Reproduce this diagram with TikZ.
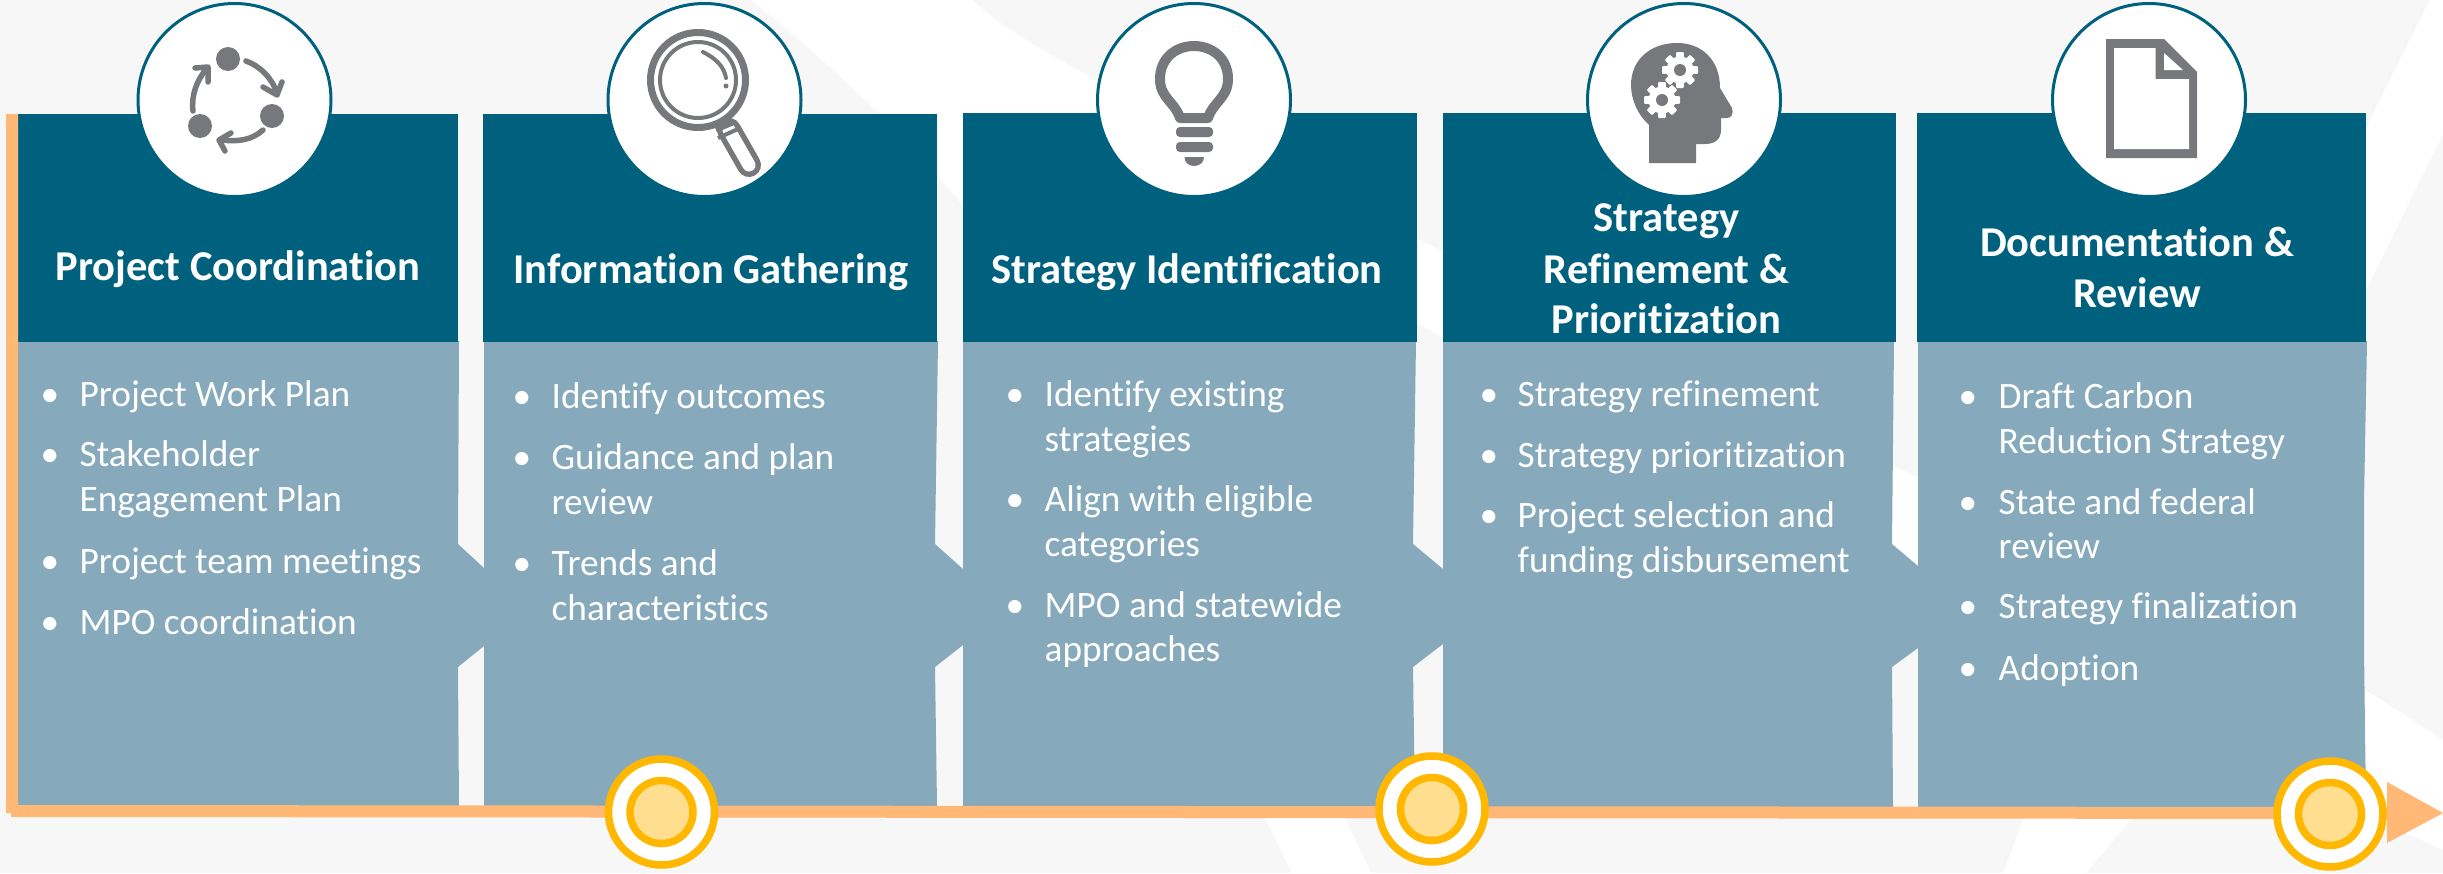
\documentclass[tikz,border=0pt]{standalone}
\usepackage{fontspec}
\setmainfont{Carlito}[Ligatures=NoCommon]
\definecolor{bgc}{HTML}{F7F7F7}
\definecolor{teal}{HTML}{00617F}
\definecolor{lteal}{HTML}{86AABB}
\definecolor{axisc}{HTML}{FFB875}
\definecolor{gold}{HTML}{FFB700}
\definecolor{lgold}{HTML}{FFDF8F}
\definecolor{icon}{HTML}{77787B}
\tikzset{
  head/.style={fill=teal},
  body/.style={fill=lteal},
  htext/.style={anchor=base,yshift=-1.5pt,text=white,font=\bfseries\fontsize{42.5}{44}\selectfont,inner sep=0pt},
  itext/.style={anchor=base west,yshift=-1pt,text=white,font=\fontsize{37.3}{40}\selectfont,inner sep=0pt},
  btext/.style={anchor=base,yshift=-1pt,text=white,font=\fontsize{37.3}{40}\selectfont,inner sep=0pt},
  disc/.style={circle,draw=teal,line width=3pt,fill=white,minimum size=193pt,inner sep=0pt},
  mile/.style={circle,draw=gold,line width=7.5pt,fill=white,minimum size=106pt,inner sep=0pt},
  milein/.style={circle,draw=gold,line width=7.5pt,fill=lgold,minimum size=63pt,inner sep=0pt},
  icl/.style={draw=icon,line cap=round,line join=round,line width=5.5pt},
}
\newcommand{\bitem}[5]{\node[btext] (#1b) at (#2,#4) {•};\node[itext] (#1) at (#3,#4) {#5};}
\newcommand{\cont}[4]{\node[itext] (#1) at (#2,#3) {#4};}
\begin{document}
\begin{tikzpicture}[x=1pt,y=-1pt]
\useasboundingbox (0,0) rectangle (2443,873);
% background
\fill[bgc] (0,0) rectangle (2443,873);
\fill[white] (751,0) .. controls (820,55) and (890,120) .. (950,190)
  .. controls (1085,350) and (1200,560) .. (1265,818) -- (1292,873) -- (1371,873) -- (1345,818)
  -- (1250,240) -- (1430,330) -- (1905,600) -- (2443,850) -- (2443,740)
  .. controls (2415,722) and (2390,705) .. (2365,690)
  -- (1905,471) -- (1417,239) .. controls (1300,185) and (1190,140) .. (1100,82)
  .. controls (1050,55) and (1005,30) .. (972,0) -- cycle;
\fill[white] (2430,0) -- (2366,128) .. controls (2230,400) and (2090,640) .. (2024,818) -- (2003,873)
  -- (2086,873) -- (2132,818) .. controls (2220,640) and (2290,470) .. (2366,290) -- (2443,134) -- (2443,0) -- cycle;
% bodies
\fill[body] (18,341) -- (459,341) -- (458,544) -- (484,568) -- (484,646) -- (458,667) -- (459,806) -- (18,806) -- cycle;
\fill[body] (484,341) -- (938,341) -- (935,544) -- (963,569) -- (963,645) -- (935,667) -- (937,806) -- (484,806) -- cycle;
\fill[body] (963,341) -- (1416,341) -- (1413,544) -- (1443,569) -- (1443,644) -- (1413,667) -- (1415,806) -- (963,806) -- cycle;
\fill[body] (1443,341) -- (1894,341) -- (1892,544) -- (1918,566) -- (1918,648) -- (1892,667) -- (1893,807) -- (1443,807) -- cycle;
\fill[body] (1918,341) -- (2367,341) -- (2364,500) -- (2364,650) -- (2366,807) -- (1918,807) -- cycle;
% headers
\fill[head] (18,114) rectangle (458,342);
\fill[head] (483,114) rectangle (937,342);
\fill[head] (963,113) rectangle (1417,342);
\fill[head] (1443,113) rectangle (1896,342);
\fill[head] (1917,113) rectangle (2366,342);
% time axis
\fill[axisc] (6,114) -- (18,114) -- (18,805) -- (2388,807) -- (2388,819) -- (11,817) -- (11,813) -- (6,813) -- cycle;
\fill[axisc] (2387,782) -- (2443,813) -- (2387,843) -- cycle;
% discs
\node[disc] (d1) at (234.5,100) {};
\node[disc] (d2) at (704.5,100) {};
\node[disc] (d3) at (1194,100) {};
\node[disc] (d4) at (1684,100) {};
\node[disc] (d5) at (2149,100) {};
% milestones
\node[mile] (m1) at (661.5,812) {};
\node[milein] (m1i) at (661.5,812) {};
\node[mile] (m2) at (1432,809) {};
\node[milein] (m2i) at (1432,809) {};
\node[mile] (m3) at (2330,814) {};
\node[milein] (m3i) at (2330,814) {};
% cycle icon
\fill[icon] (228,59) circle (12) (272,116) circle (12) (200,126) circle (12);
\draw[icl] (246,61) .. controls (260,66) and (272,78) .. (277,93);
\draw[icl] (263,87) -- (277,95) -- (282,82);
\draw[icl] (263,130) .. controls (252,140) and (238,142) .. (222,140);
\draw[icl] (231,133) -- (219,140) -- (225,151);
\draw[icl] (193,111) .. controls (191,95) and (197,80) .. (207,68);
\draw[icl] (195,68) -- (208,67) -- (208,82);
% magnifier
\draw[icon,line width=7pt] (698,80) circle (47.5);
\draw[icon,line width=4pt] (698,80) circle (38);
\draw[icon,line width=4pt,line cap=round] (703,52) .. controls (715,58) and (724,66) .. (726,78);
\fill[icon] (726,86) circle (2.5);
\draw[icon,line width=24pt,line cap=round] (729,130) -- (749,165);
\draw[white,line width=13pt,line cap=round] (729,130) -- (749,165);
\draw[icon,line width=5pt] (716,130) -- (735,122);
\draw[icon,line width=4pt] (718,138) -- (738,129);
% bulb
\draw[icon,line width=10pt,line join=round] (1180,118) .. controls (1175,102) and (1160,98) .. (1160,79)
  .. controls (1160,58) and (1176,46) .. (1194,46) .. controls (1212,46) and (1228,58) .. (1228,79)
  .. controls (1228,98) and (1213,102) .. (1208,118) -- cycle;
\fill[icon,rounded corners=4pt] (1176,127) rectangle (1213,137);
\fill[icon,rounded corners=4pt] (1176,142) rectangle (1213,152);
\fill[icon] (1184.5,157) -- (1204,157) .. controls (1204,162) and (1200,166) .. (1194,166) .. controls (1188,166) and (1184.5,162) .. (1184.5,157) -- cycle;
% head
\fill[icon] (1649,163) -- (1649,125) .. controls (1638,115) and (1631,100) .. (1631,85)
  .. controls (1631,60) and (1650,43) .. (1677,43) .. controls (1702,43) and (1720,60) .. (1720,88)
  -- (1732,108) .. controls (1734,114) and (1731,118) .. (1727,118) -- (1721,118) -- (1721,130)
  .. controls (1721,140) and (1714,144) .. (1705,144) -- (1696,144) -- (1696,163) -- cycle;
\foreach \cx/\cy in {1680/70,1662/100}{
  \fill[white] (\cx,\cy) circle (13.5);
  \foreach \a in {0,45,...,315}{
    \fill[white,rotate around={\a:(\cx,\cy)},rounded corners=1pt] (\cx-3.8,\cy-18) rectangle (\cx+3.8,\cy-10);
  }
  \fill[icon] (\cx,\cy) circle (6);
}
% document
\fill[icon] (2106,39) -- (2164,39) -- (2197,72) -- (2197,158) -- (2106,158) -- cycle;
\fill[white] (2114,48) -- (2155.5,48) -- (2155.5,79) -- (2189,79) -- (2189,149) -- (2114,149) -- cycle;
\fill[white] (2164,53) -- (2164,70) -- (2183,70) -- cycle;
% header texts
\node[htext] (h1) at (238,279) {Project Coordination};
\node[htext] (h2) at (711,282) {Information Gathering};
\node[htext] (h3) at (1187,282) {Strategy Identification};
\node[htext] (h4a) at (1666.5,230) {Strategy};
\node[htext] (h4b) at (1666.5,282) {Refinement \&};
\node[htext] (h4c) at (1666.5,332) {Prioritization};
\node[htext] (h5a) at (2137,255) {Documentation \&};
\node[htext] (h5b) at (2137,306) {Review};
% items
\bitem{a1}{50}{79.5}{405}{Project Work Plan}
\bitem{a2}{50}{79.5}{465}{Stakeholder}
\cont{a2c}{79.5}{510}{Engagement Plan}
\bitem{a3}{50}{79.5}{572}{Project team meetings}
\bitem{a4}{50}{79.5}{633}{MPO coordination}
\bitem{b1}{522}{551.5}{407}{Identify outcomes}
\bitem{b2}{522}{551.5}{468}{Guidance and plan}
\cont{b2c}{551.5}{513}{review}
\bitem{b3}{522}{551.5}{574}{Trends and}
\cont{b3c}{551.5}{619}{characteristics}
\bitem{c1}{1015}{1044.5}{405}{Identify existing}
\cont{c1c}{1044.5}{450}{strategies}
\bitem{c2}{1015}{1044.5}{510}{Align with eligible}
\cont{c2c}{1044.5}{555}{categories}
\bitem{c3}{1015}{1044.5}{616}{MPO and statewide}
\cont{c3c}{1044.5}{660}{approaches}
\bitem{e1}{1489}{1517.5}{405}{Strategy refinement}
\bitem{e2}{1489}{1517.5}{466}{Strategy prioritization}
\bitem{e3}{1489}{1517.5}{526}{Project selection and}
\cont{e3c}{1517.5}{571}{funding disbursement}
\bitem{f1}{1968}{1998.5}{407}{Draft Carbon}
\cont{f1c}{1998.5}{452}{Reduction Strategy}
\bitem{f2}{1968}{1998.5}{513}{State and federal}
\cont{f2c}{1998.5}{557}{review}
\bitem{f3}{1968}{1998.5}{617}{Strategy finalization}
\bitem{f4}{1968}{1998.5}{679}{Adoption}
\end{tikzpicture}
\end{document}
